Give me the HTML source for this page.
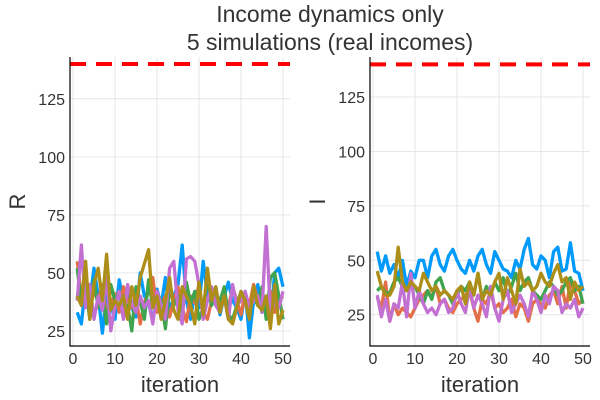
<!DOCTYPE html>
<html><head><meta charset="utf-8"><style>
html,body{margin:0;padding:0;background:#fff;}
svg{display:block;font-family:"Liberation Sans",sans-serif;}
</style></head><body>
<svg id="chart" width="600" height="400"></svg>
<script>
const iterations = Array.from({length:50},(_,i)=>i+1);
const xTicks = [0,10,20,30,40,50];
const yTicks = [25,50,75,100,125];
const threshold = 140;
const colors = ["#009AFA","#E36F47","#3EA44E","#C271D2","#AC8E18"];
const rBlue = [33,28,45,38,52,40,24,42,36,30,47,38,44,35,31,50,40,37,29,43,36,48,33,40,45,62,38,30,42,35,55,40,37,44,32,40,46,38,35,30,42,22,38,45,33,40,27,50,52,44];
const rOrange = [55,40,48,35,42,38,45,30,36,41,33,44,38,35,40,28,37,42,48,33,36,40,31,38,44,35,29,40,37,45,33,30,38,42,36,40,35,44,38,32,41,36,45,38,40,35,42,33,38,40];
const rGreen = [52,36,44,30,47,35,40,28,45,38,42,33,36,25,44,38,30,47,35,41,38,26,44,36,40,33,46,37,42,30,35,48,36,40,38,44,32,30,36,42,38,34,40,36,44,30,48,50,40,30];
const rPurple = [38,62,35,45,30,40,34,48,25,36,42,30,45,37,33,40,35,38,28,42,36,30,52,55,34,28,56,57,55,45,30,38,44,36,33,40,30,45,36,38,42,35,38,40,33,70,32,38,35,42];
const rOlive = [40,36,55,30,45,52,38,58,34,38,36,40,30,44,36,48,54,60,35,40,30,38,48,34,30,44,40,36,28,46,32,52,38,44,33,40,30,28,35,42,38,30,44,36,34,40,26,45,28,34];
const iBlue = [54,45,52,44,48,42,50,38,45,42,50,50,42,52,55,48,45,52,55,50,46,44,50,45,52,55,48,44,54,50,46,45,42,50,46,55,60,48,46,52,50,42,54,56,45,46,58,45,44,36];
const iOrange = [33,28,40,22,30,25,28,26,24,28,32,34,36,33,38,30,32,28,26,30,32,34,36,28,22,32,30,36,28,30,26,28,32,24,30,28,22,30,32,30,28,34,36,30,38,28,40,36,30,32];
const iGreen = [36,38,35,35,40,42,38,36,40,38,34,30,36,32,40,42,36,34,30,34,38,36,40,34,44,32,38,34,40,36,42,34,38,44,36,40,42,36,34,32,36,40,38,34,36,40,42,36,38,30];
const iPurple = [34,24,32,22,30,28,40,24,44,28,36,30,26,28,25,30,32,26,28,36,30,26,38,28,34,30,24,38,28,22,32,36,26,30,34,30,24,36,32,26,34,30,38,36,26,30,28,32,24,28];
const iOlive = [45,38,34,34,38,56,40,36,40,38,36,44,40,36,38,34,36,34,32,36,38,30,40,34,44,32,36,34,40,44,32,42,36,30,46,38,40,36,38,44,40,38,44,48,40,42,32,40,36,38];

const NS="http://www.w3.org/2000/svg";
const svg=document.getElementById('chart');
function mk(tag,attrs,parent){const e=document.createElementNS(NS,tag);for(const k in attrs)e.setAttribute(k,attrs[k]);(parent||svg).appendChild(e);return e;}

function panel(name,x0,x1,yTop,yBot,ymin,ymax,series,ylabel,ylabelX){
  const g=mk('g',{});
  
  
  const sx=v=>x0+3+(v-0)/(50-0)*(x1-x0-10);
  const sy=v=>yBot-(v-ymin)/(ymax-ymin)*(yBot-yTop);
  xTicks.forEach(t=>{
    const l=mk('line',{x1:sx(t),x2:sx(t),y1:yTop,y2:yBot,stroke:'#e6e6e6','stroke-width':1},g);
    
    
    const tx=mk('text',{x:sx(t),y:yBot+18,'text-anchor':'middle','font-size':16,fill:'#333'},g);
    tx.textContent=t;
    
    
  });
  yTicks.forEach(t=>{
    const l=mk('line',{x1:x0,x2:x1,y1:sy(t),y2:sy(t),stroke:'#e6e6e6','stroke-width':1},g);
    
    
    const tx=mk('text',{x:x0-5,y:sy(t)+6,'text-anchor':'end','font-size':16,fill:'#333'},g);
    tx.textContent=t;
    
    
  });
  series.forEach((s,si)=>{
    const d=s.map((v,i)=>(i?'L':'M')+sx(iterations[i]).toFixed(1)+','+sy(v).toFixed(1)).join('');
    const p=mk('path',{d:d,fill:'none',stroke:colors[si],'stroke-width':3.3,'stroke-linejoin':'round'},g);
    
    
  });
  const th=mk('line',{x1:x0,x2:x1,y1:sy(threshold),y2:sy(threshold),stroke:'#ff0000','stroke-width':4,'stroke-dasharray':'16,10'},g);
  
  
  const ax=mk('path',{d:`M${x0},${yTop}L${x0},${yBot}L${x1},${yBot}`,fill:'none',stroke:'#000','stroke-width':1.2},g);
  
  
  const xl=mk('text',{x:(x0+x1)/2,y:392,'text-anchor':'middle','font-size':22,fill:'#333'},g);
  xl.textContent='iteration';
  
  
  const yl=mk('text',{x:ylabelX,y:(yTop+yBot)/2,'text-anchor':'middle','font-size':22,fill:'#333',transform:`rotate(-90 ${ylabelX} ${(yTop+yBot)/2})`},g);
  yl.textContent=ylabel;
  
  
}
panel('panel-r',70,290,57,346,18.5,143,[rBlue,rOrange,rGreen,rPurple,rOlive],'R',25);
panel('panel-i',370,590,57,346,10.6,143.4,[iBlue,iOrange,iGreen,iPurple,iOlive],'I',325);
const t1=mk('text',{x:330,y:22,'text-anchor':'middle','font-size':23,fill:'#333'});
t1.textContent='Income dynamics only';


const t2=mk('text',{x:330,y:50,'text-anchor':'middle','font-size':23,fill:'#333'});
t2.textContent='5 simulations (real incomes)';


</script>
</body></html>
